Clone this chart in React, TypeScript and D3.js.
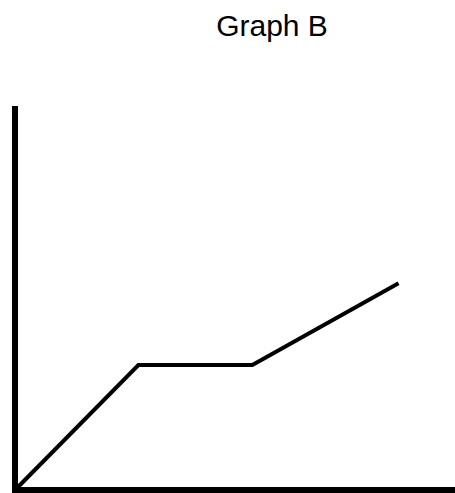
import React from 'react'
import * as d3 from 'd3'

// data (arbitrary units)
const xValues = [0, 2.8, 5.45, 8.85]
const yValues = [0, 3.2, 3.2, 5.35]
const title = 'Graph B'

const width = 455
const height = 493

export default function App() {
  const xScale = d3.scaleLinear().domain([0, 10]).range([18, 448])
  const yScale = d3.scaleLinear().domain([0, 10]).range([487, 106])

  const line = d3.line<number>()
    .x((d, i) => xScale(xValues[i]))
    .y(d => yScale(d))

  // axes drawn as thick plain lines, no ticks
  const axisX0 = xScale(0) - 3
  const axisY0 = yScale(0) + 3

  return (
    <svg width={width} height={height} style={{position: 'absolute', left: 0, top: 0}}>
      <rect width={width} height={height} fill="#fff" />
      <text x={272} y={36} textAnchor="middle" fontFamily="Liberation Sans, Arial, sans-serif" fontSize={30} fill="#000">
        {title}
      </text>
      <line x1={axisX0} y1={106} x2={axisX0} y2={height} stroke="#000" strokeWidth={6} />
      <line x1={axisX0 - 3} y1={axisY0} x2={width} y2={axisY0} stroke="#000" strokeWidth={6} />
      <path d={line(yValues) || ''} fill="none" stroke="#000" strokeWidth={4} strokeLinejoin="miter" />
    </svg>
  )
}
